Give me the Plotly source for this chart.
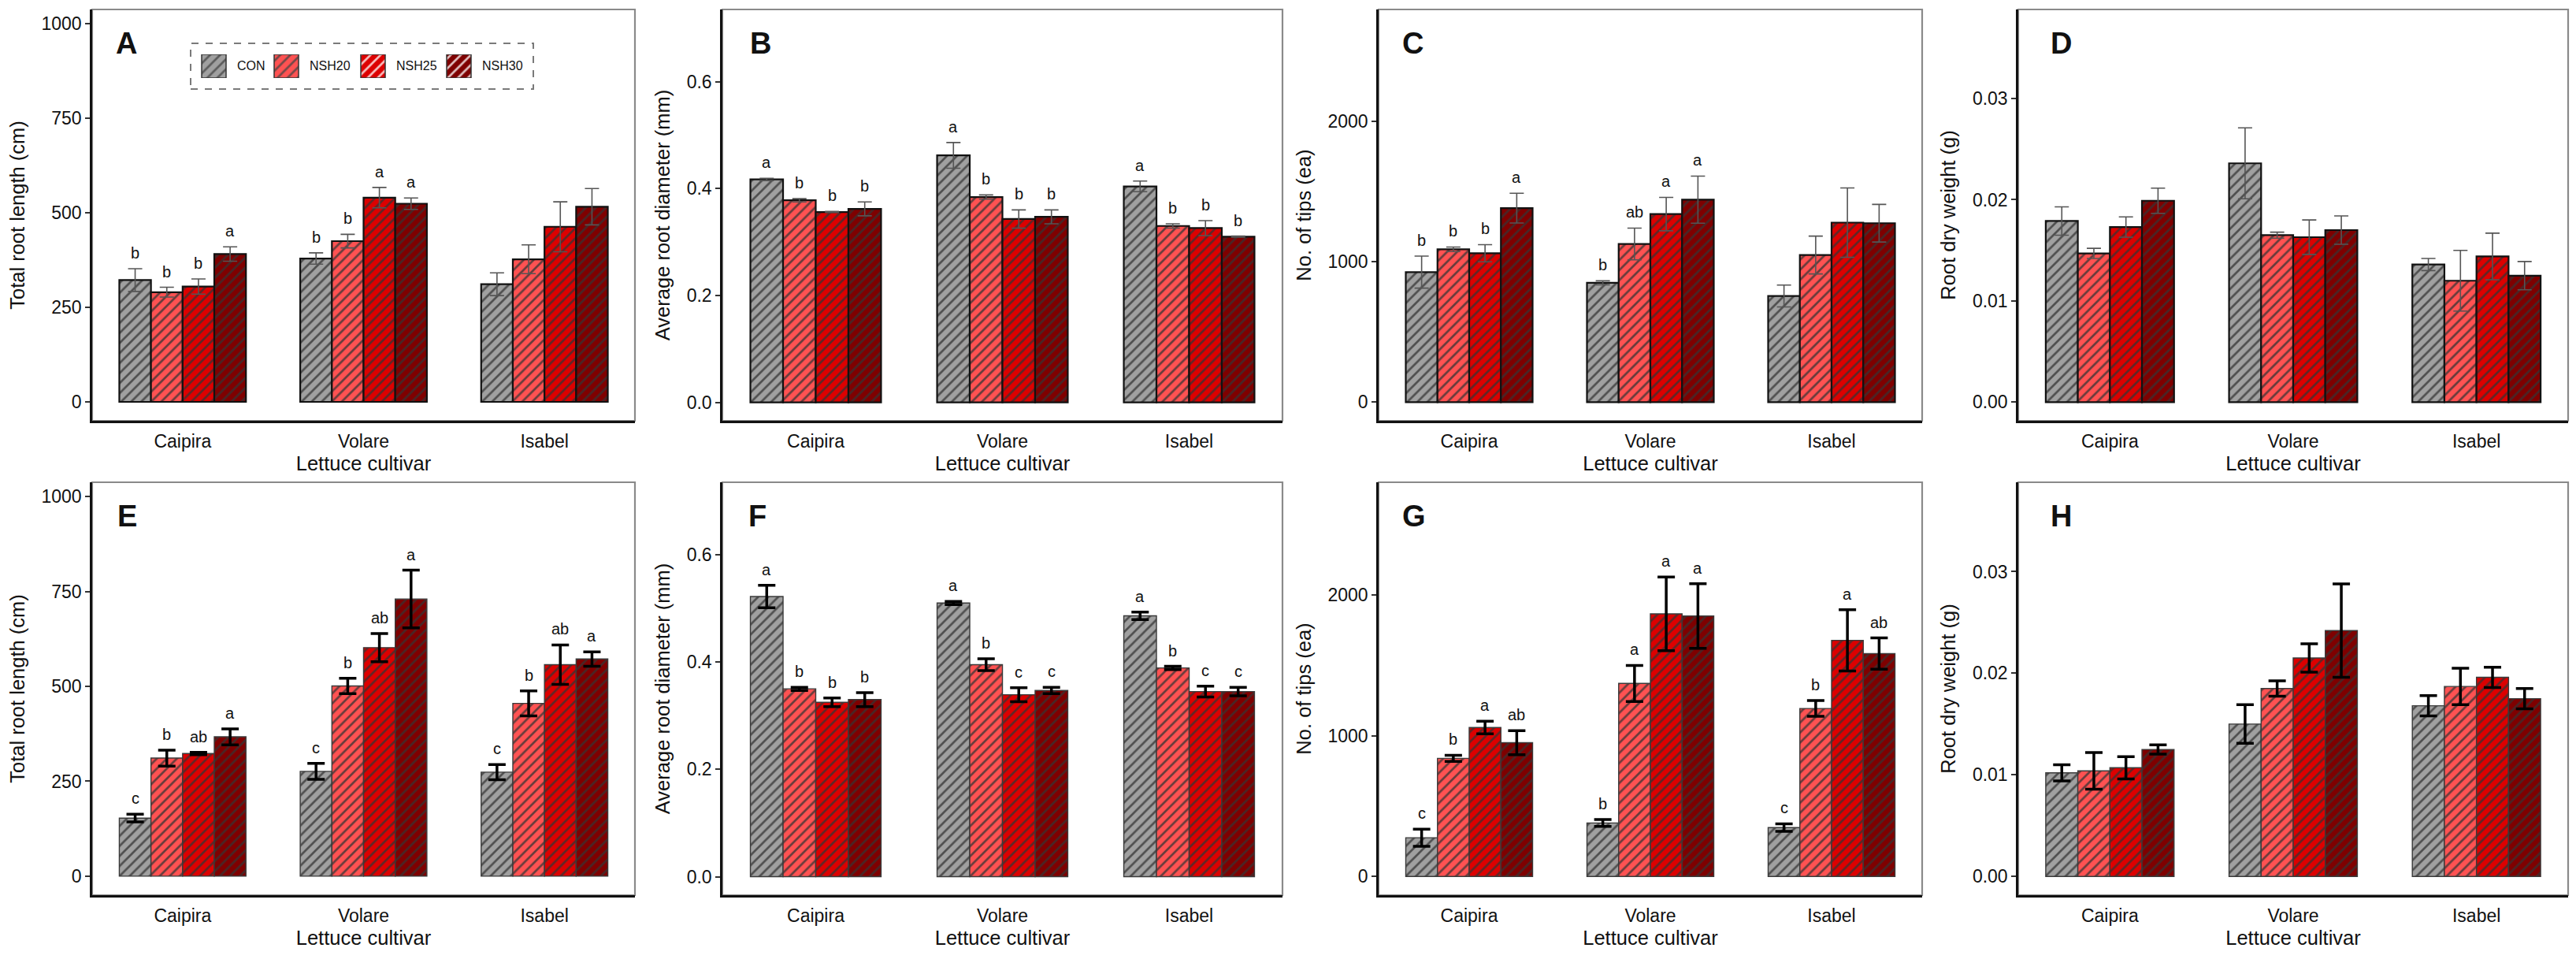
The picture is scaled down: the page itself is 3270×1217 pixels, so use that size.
import plotly.graph_objects as go

W, H = 3270, 1217

cultivars = ["Caipira", "Volare", "Isabel"]
treatments = ["CON", "NSH20", "NSH25", "NSH30"]
colors = ["#A0A0A0", "#FF5252", "#DD0000", "#7F0000"]

# ---------------- Panel A: total root length (row 1) ----------------
A_mean = {"CON": [322, 379, 311], "NSH20": [290, 425, 377], "NSH25": [305, 540, 463], "NSH30": [391, 524, 516]}
A_se = {"CON": [30, 15, 30], "NSH20": [13, 18, 38], "NSH25": [20, 27, 66], "NSH30": [19, 15, 48]}
A_let = {"CON": ["b", "b", ""], "NSH20": ["b", "b", ""], "NSH25": ["b", "a", ""], "NSH30": ["a", "a", ""]}

# ---------------- Panel B: average root diameter (row 1) ----------------
B_mean = {"CON": [0.417, 0.462, 0.404], "NSH20": [0.378, 0.384, 0.330], "NSH25": [0.356, 0.343, 0.326], "NSH30": [0.362, 0.347, 0.310]}
B_se = {"CON": [0.002, 0.024, 0.010], "NSH20": [0.003, 0.004, 0.004], "NSH25": [0.001, 0.017, 0.014], "NSH30": [0.013, 0.013, 0.001]}
B_let = {"CON": ["a", "a", "a"], "NSH20": ["b", "b", "b"], "NSH25": ["b", "b", "b"], "NSH30": ["b", "b", "b"]}

# ---------------- Panel C: number of tips (row 1) ----------------
C_mean = {"CON": [927, 851, 757], "NSH20": [1090, 1128, 1049], "NSH25": [1062, 1341, 1280], "NSH30": [1383, 1444, 1276]}
C_se = {"CON": [114, 14, 78], "NSH20": [16, 113, 135], "NSH25": [61, 119, 247], "NSH30": [106, 168, 134]}
C_let = {"CON": ["b", "b", ""], "NSH20": ["b", "ab", ""], "NSH25": ["b", "a", ""], "NSH30": ["a", "a", ""]}

# ---------------- Panel D: root dry weight (row 1) ----------------
D_mean = {"CON": [0.0179, 0.0236, 0.0136], "NSH20": [0.0147, 0.0165, 0.0120], "NSH25": [0.0173, 0.0163, 0.0144], "NSH30": [0.0199, 0.0170, 0.0125]}
D_se = {"CON": [0.0014, 0.0035, 0.0006], "NSH20": [0.0005, 0.0003, 0.0030], "NSH25": [0.0010, 0.0017, 0.0023], "NSH30": [0.00125, 0.0014, 0.0014]}
D_let = {"CON": ["", "", ""], "NSH20": ["", "", ""], "NSH25": ["", "", ""], "NSH30": ["", "", ""]}

# ---------------- Panel E: total root length (row 2) ----------------
E_mean = {"CON": [153, 276, 274], "NSH20": [311, 501, 455], "NSH25": [323, 602, 557], "NSH30": [367, 730, 572]}
E_se = {"CON": [10, 21, 20], "NSH20": [21, 20, 33], "NSH25": [3, 37, 52], "NSH30": [21, 76, 19]}
E_let = {"CON": ["c", "c", "c"], "NSH20": ["b", "b", "b"], "NSH25": ["ab", "ab", "ab"], "NSH30": ["a", "a", "a"]}

# ---------------- Panel F: average root diameter (row 2) ----------------
F_mean = {"CON": [0.522, 0.510, 0.486], "NSH20": [0.350, 0.395, 0.389], "NSH25": [0.325, 0.339, 0.345], "NSH30": [0.330, 0.347, 0.345]}
F_se = {"CON": [0.021, 0.003, 0.007], "NSH20": [0.003, 0.011, 0.003], "NSH25": [0.008, 0.013, 0.010], "NSH30": [0.013, 0.006, 0.008]}
F_let = {"CON": ["a", "a", "a"], "NSH20": ["b", "b", "b"], "NSH25": ["b", "c", "c"], "NSH30": ["b", "c", "c"]}

# ---------------- Panel G: number of tips (row 2) ----------------
G_mean = {"CON": [275, 380, 347], "NSH20": [839, 1371, 1193], "NSH25": [1058, 1865, 1677], "NSH30": [950, 1850, 1583]}
G_se = {"CON": [61, 24, 27], "NSH20": [22, 128, 56], "NSH25": [45, 262, 217], "NSH30": [85, 230, 111]}
G_let = {"CON": ["c", "b", "c"], "NSH20": ["b", "a", "b"], "NSH25": ["a", "a", "a"], "NSH30": ["ab", "a", "ab"]}

# ---------------- Panel H: root dry weight (row 2) ----------------
H_mean = {"CON": [0.0102, 0.0150, 0.0168], "NSH20": [0.0104, 0.0185, 0.0187], "NSH25": [0.0107, 0.0215, 0.0196], "NSH30": [0.0125, 0.0242, 0.0175]}
H_se = {"CON": [0.0008, 0.0019, 0.0010], "NSH20": [0.0018, 0.00075, 0.0018], "NSH25": [0.0011, 0.0014, 0.0010], "NSH30": [0.00045, 0.0046, 0.0010]}
H_let = {"CON": ["", "", ""], "NSH20": ["", "", ""], "NSH25": ["", "", ""], "NSH30": ["", "", ""]}

y_titles = ["Total root length (cm)", "Average root diameter (mm)", "No. of tips (ea)", "Root dry weight (g)"]
y_ranges = [[-50, 1037.5], [-0.0345, 0.735], [-133, 2800], [-0.00184, 0.0388]]
y_ticks = [[0, 250, 500, 750, 1000], [0, 0.2, 0.4, 0.6], [0, 1000, 2000], [0, 0.01, 0.02, 0.03]]
y_fmt = ["d", ".1f", "d", ".2f"]
panel_letters = ["A", "B", "C", "D", "E", "F", "G", "H"]

panels = [
    (A_mean, A_se, A_let), (B_mean, B_se, B_let), (C_mean, C_se, C_let), (D_mean, D_se, D_let),
    (E_mean, E_se, E_let), (F_mean, F_se, F_let), (G_mean, G_se, G_let), (H_mean, H_se, H_let),
]

# ---------------- layout geometry (pixels) ----------------
col_px = [(117, 806), (917, 1628), (1750, 2440), (2562, 3260)]
row_px = [(12, 534), (612, 1136)]
letter_dx = [28, 33, 28, 39, 30, 31, 28, 39]

GROUP_W = 0.7
BW = GROUP_W / len(treatments)

FONT = "Liberation Sans, Arial, sans-serif"

fig = go.Figure()
layout = dict(
    width=W, height=H, margin=dict(l=0, r=0, t=0, b=0),
    paper_bgcolor="white", plot_bgcolor="white", showlegend=False,
    barmode="overlay", font=dict(family=FONT, color="#111111"),
)
annotations = []
shapes = []

def px_x(v):
    return v / W

def px_y(v):
    return 1 - v / H

for k, (mean, se, let) in enumerate(panels):
    r, c = divmod(k, 4)
    n = k + 1
    xa = "x" if n == 1 else f"x{n}"
    ya = "y" if n == 1 else f"y{n}"
    row1 = r == 0
    for j, trt in enumerate(treatments):
        xs = [i + (j - 1.5) * BW for i in range(len(cultivars))]
        fig.add_trace(go.Bar(
            x=xs, y=mean[trt], width=BW, xaxis=xa, yaxis=ya, name=trt,
            marker=dict(
                color=colors[j],
                line=dict(color="#111111" if row1 else "#3a3a3a", width=2.2 if row1 else 1.4),
                pattern=dict(shape="/", fgcolor="#333333", fgopacity=0.75, size=9, solidity=0.3),
            ),
            error_y=dict(type="data", array=se[trt], visible=True,
                         color="#555555" if row1 else "#000000",
                         thickness=1.6 if row1 else 3.5, width=9 if row1 else 11),
            hoverinfo="skip",
        ))
        for i, lt in enumerate(let[trt]):
            if lt:
                annotations.append(dict(
                    x=xs[i], y=mean[trt][i] + se[trt][i], xref=xa, yref=ya,
                    text=lt, showarrow=False, yanchor="bottom", yshift=7,
                    font=dict(size=20, family=FONT, color="#111111"),
                ))
    x0, x1 = col_px[c]
    y0, y1 = row_px[r]
    xkey = "xaxis" if n == 1 else f"xaxis{n}"
    ykey = "yaxis" if n == 1 else f"yaxis{n}"
    layout[xkey] = dict(
        domain=[px_x(x0), px_x(x1)], anchor=ya, range=[-0.5, 2.5],
        tickvals=list(range(len(cultivars))), ticktext=cultivars,
        showline=True, linecolor="#111111", linewidth=2.5, ticks="",
        ticklabelstandoff=4,
        showgrid=False, zeroline=False,
        tickfont=dict(size=23, family=FONT, color="#111111"),
        title=dict(text="Lettuce cultivar", font=dict(size=25.5, family=FONT, color="#111111"), standoff=7),
    )
    layout[ykey] = dict(
        domain=[px_y(y1), px_y(y0)], anchor=xa, range=y_ranges[c],
        tickvals=y_ticks[c], tickformat=y_fmt[c],
        showline=True, linecolor="#111111", linewidth=2.5,
        ticks="outside", ticklen=6, tickwidth=2, tickcolor="#333333",
        showgrid=False, zeroline=False,
        tickfont=dict(size=23, family=FONT, color="#111111"),
        title=dict(text=y_titles[c], font=dict(size=25.5, family=FONT, color="#111111"), standoff=14),
    )
    shapes.append(dict(type="rect", xref="paper", yref="paper",
                       x0=px_x(x0), x1=px_x(x1), y0=px_y(y1), y1=px_y(y0),
                       line=dict(color="#8a8a8a", width=2.2), layer="below"))
    annotations.append(dict(
        x=px_x(x0 + letter_dx[k]), y=px_y(y0 + 20), xref="paper", yref="paper",
        text=f"<b>{panel_letters[k]}</b>", showarrow=False, xanchor="left", yanchor="top",
        font=dict(size=38, family=FONT, color="#111111"),
    ))

# ---------------- legend (inside panel A), drawn as swatches on a helper axis ----------------
# helper axis measured in pixels so the legend layout can follow the reference spacing
LEG_BOX = (242, 55, 677, 113)
LEG_ITEM_X = [271.5, 363.5, 473.5, 582.5]   # swatch centres (layout, not data)
LEG_SW_W = 31
LEG_SW = (69, 99)
fig.add_trace(go.Bar(
    x=LEG_ITEM_X, y=[1] * len(treatments), width=LEG_SW_W,
    xaxis="x9", yaxis="y9", hoverinfo="skip",
    marker=dict(color=colors, line=dict(color="#333333", width=1.5),
                pattern=dict(shape="/", fgcolor="#333333", fgopacity=0.75, size=9, solidity=0.3)),
))
layout["xaxis9"] = dict(domain=[px_x(LEG_BOX[0]), px_x(LEG_BOX[2])], anchor="y9",
                        range=[LEG_BOX[0], LEG_BOX[2]], visible=False, fixedrange=True)
layout["yaxis9"] = dict(domain=[px_y(LEG_SW[1]), px_y(LEG_SW[0])], anchor="x9", range=[0, 1],
                        visible=False, fixedrange=True)
for j, trt in enumerate(treatments):
    annotations.append(dict(x=LEG_ITEM_X[j], y=0.5, xref="x9", yref="y9", text=trt, showarrow=False,
                            xanchor="left", xshift=27, font=dict(size=16, family=FONT, color="#111111")))
shapes.append(dict(type="rect", xref="paper", yref="paper",
                   x0=px_x(LEG_BOX[0]), x1=px_x(LEG_BOX[2]), y0=px_y(LEG_BOX[3]), y1=px_y(LEG_BOX[1]),
                   line=dict(color="#7a7a7a", width=2, dash="dash"), layer="above"))

layout["annotations"] = annotations
layout["shapes"] = shapes
fig.update_layout(**layout)
fig.write_html("out.html")
